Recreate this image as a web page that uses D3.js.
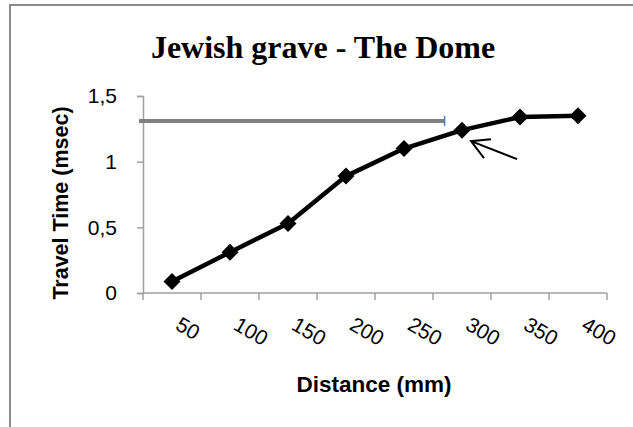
<!DOCTYPE html>
<html>
<head>
<meta charset="utf-8">
<script src="https://cdn.jsdelivr.net/npm/d3@7"></script>
<style>
  body { margin: 0; background: #fff; }
  svg { display: block; }
</style>
</head>
<body>
<div id="chart"></div>
<script>
// chart data
const distances = ["50", "100", "150", "200", "250", "300", "350", "400"];
const travelTimes = [0.088, 0.31, 0.53, 0.89, 1.10, 1.24, 1.34, 1.35];
const yTicks = [0, 0.5, 1, 1.5];
const refLineValue = 1.31;   // grey horizontal line
const refLineEnd = 5.2;      // ends part way through the 6th category

const width = 633;
const height = 427;
const margin = { left: 143, right: 26, top: 96, bottom: 134 };

const svg = d3.select("#chart")
    .append("svg")
    .attr("width", width)
    .attr("height", height);

// outer frame, cut off at right and bottom like the picture
svg.append("rect")
    .attr("x", 10)
    .attr("y", 5)
    .attr("width", 700)
    .attr("height", 500)
    .attr("fill", "none")
    .attr("stroke", "#8c8c8c")
    .attr("stroke-width", 2);

const x = d3.scaleBand()
    .domain(distances)
    .range([margin.left, width - margin.right])
    .paddingInner(0)
    .paddingOuter(0);

// continuous version of x for things placed between categories
const xPos = d3.scaleLinear()
    .domain([0, distances.length])
    .range([margin.left, width - margin.right]);

const y = d3.scaleLinear()
    .domain([0, 1.5])
    .range([height - margin.bottom, margin.top]);

const fmt = d => String(d).replace(".", ",");
const sans = "Liberation Sans, Arial, sans-serif";

// y axis
const yAxis = svg.append("g")
    .attr("transform", `translate(${margin.left},0)`)
    .call(d3.axisLeft(y).tickValues(yTicks).tickSize(6).tickPadding(20).tickFormat(fmt));
yAxis.select(".domain").attr("stroke", "#a0a0a0").attr("stroke-width", 1.5);
yAxis.selectAll(".tick line").attr("stroke", "#a0a0a0").attr("stroke-width", 1.5);
yAxis.selectAll("text")
    .attr("fill", "#000")
    .style("font-family", sans)
    .style("font-size", "21px");

// x axis with ticks between categories
const xAxis = svg.append("g")
    .attr("transform", `translate(0,${y(0)})`);
xAxis.append("line")
    .attr("x1", xPos(0))
    .attr("x2", xPos(distances.length))
    .attr("stroke", "#a0a0a0")
    .attr("stroke-width", 1.5);
xAxis.selectAll(".xtick")
    .data(d3.range(distances.length + 1))
    .enter()
    .append("line")
    .attr("class", "xtick")
    .attr("x1", d => xPos(d))
    .attr("x2", d => xPos(d))
    .attr("y1", 0)
    .attr("y2", 7)
    .attr("stroke", "#a0a0a0")
    .attr("stroke-width", 1.5);

xAxis.selectAll(".xlabel")
    .data(distances)
    .enter()
    .append("text")
    .attr("class", "xlabel")
    .attr("transform", d => `translate(${x(d) + x.bandwidth() / 2 + 5},${31}) rotate(30)`)
    .attr("text-anchor", "start")
    .attr("dominant-baseline", "middle")
    .style("font-family", sans)
    .style("font-size", "21px")
    .text(d => d);

// grey reference line
svg.append("line")
    .attr("x1", xPos(0) - 4)
    .attr("x2", xPos(refLineEnd))
    .attr("y1", y(refLineValue))
    .attr("y2", y(refLineValue))
    .attr("stroke", "#808080")
    .attr("stroke-width", 4);
svg.append("line")
    .attr("x1", xPos(refLineEnd))
    .attr("x2", xPos(refLineEnd))
    .attr("y1", y(refLineValue) - 5)
    .attr("y2", y(refLineValue) + 5)
    .attr("stroke", "#4a7ebb")
    .attr("stroke-width", 1.5);

// data line
const line = d3.line()
    .x((d, i) => x(distances[i]) + x.bandwidth() / 2)
    .y(d => y(d));

svg.append("path")
    .datum(travelTimes)
    .attr("d", line)
    .attr("fill", "none")
    .attr("stroke", "#000")
    .attr("stroke-width", 4.5)
    .attr("stroke-linejoin", "round");

const r = 8.5;
svg.selectAll(".marker")
    .data(travelTimes)
    .enter()
    .append("path")
    .attr("class", "marker")
    .attr("transform", (d, i) => `translate(${x(distances[i]) + x.bandwidth() / 2},${y(d)})`)
    .attr("d", `M0,${-r}L${r},0L0,${r}L${-r},0Z`)
    .attr("fill", "#000");

// hand drawn arrow pointing at the 6th point
const px = x(distances[5]) + x.bandwidth() / 2;
const py = y(travelTimes[5]);
const tip = [px + 9, py + 11];
svg.append("path")
    .attr("d", `M${tip[0] + 46},${tip[1] + 18}L${tip[0]},${tip[1]}` +
        `M${tip[0] + 20},${tip[1] - 2}L${tip[0]},${tip[1]}L${tip[0] + 13},${tip[1] + 17}`)
    .attr("fill", "none")
    .attr("stroke", "#000")
    .attr("stroke-width", 2);

// titles
svg.append("text")
    .attr("x", 323)
    .attr("y", 58)
    .attr("text-anchor", "middle")
    .style("font-family", "Liberation Serif, Times New Roman, serif")
    .style("font-weight", "bold")
    .style("font-size", "32px")
    .text("Jewish grave - The Dome");

svg.append("text")
    .attr("transform", `translate(68,203) rotate(-90)`)
    .attr("text-anchor", "middle")
    .style("font-family", sans)
    .style("font-weight", "bold")
    .style("font-size", "21.5px")
    .text("Travel Time (msec)");

svg.append("text")
    .attr("x", 374)
    .attr("y", 392)
    .attr("text-anchor", "middle")
    .style("font-family", sans)
    .style("font-weight", "bold")
    .style("font-size", "22.5px")
    .text("Distance (mm)");
</script>
</body>
</html>
